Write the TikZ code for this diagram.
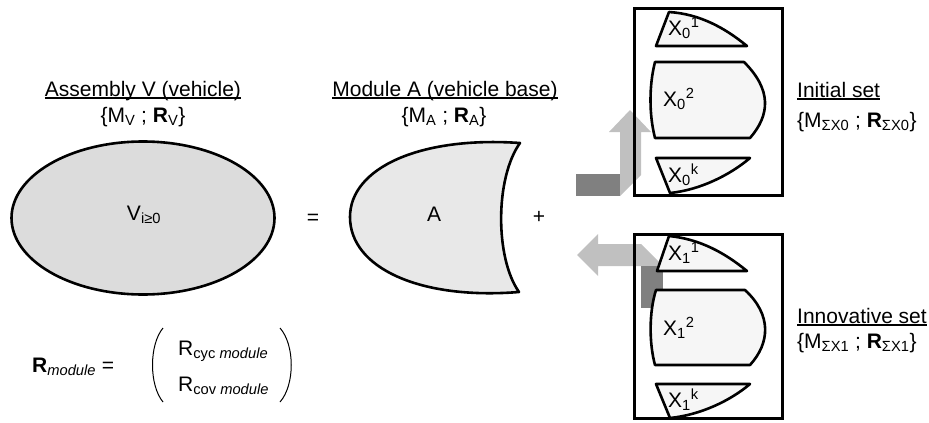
\documentclass[tikz,border=0pt]{standalone}
\usepackage{fontspec}
\setmainfont{Liberation Sans}
\usetikzlibrary{shapes.geometric}
\definecolor{ellfill}{HTML}{DCDCDC}
\definecolor{afill}{HTML}{E8E8E8}
\definecolor{xfill}{HTML}{F6F6F6}
\definecolor{arrlight}{HTML}{C0C0C0}
\definecolor{arrdark}{HTML}{808080}
\begin{document}
\begin{tikzpicture}[x=1pt,y=-1pt,
  font=\fontsize{21}{25}\selectfont,
  shp/.style={draw=black, line width=2.6pt, line join=round},
  xshp/.style={shp, fill=xfill},
  ttl/.style={inner sep=0, anchor=base},
  ttlw/.style={inner sep=0, anchor=base west},
  uline/.style={line width=1.3pt},
  boxnode/.style={draw=black, line width=2.6pt, minimum width=148pt, inner sep=0},
  paren/.style={line width=1pt}]
\useasboundingbox (0,0) rectangle (929,423);

% titles
\node[ttl] (tV) at (143,96) {Assembly V (vehicle)};
\draw[uline] ([yshift=-2pt]tV.base west) -- ([yshift=-2pt]tV.base east);
\node[ttl] (sV) at (143,122) {\{M\textsubscript{V} ; \textbf{R}\textsubscript{V}\}};

\node[ttl] (tA) at (445,96) {Module A (vehicle base)};
\draw[uline] ([yshift=-2pt]tA.base west) -- ([yshift=-2pt]tA.base east);
\node[ttl] (sA) at (444,122) {\{M\textsubscript{A} ; \textbf{R}\textsubscript{A}\}};

\node[ttlw] (tI) at (797,97) {Initial set};
\draw[uline] ([yshift=-2pt]tI.base west) -- ([yshift=-2pt]tI.base east);
\node[ttlw] (sI) at (797,127) {\{M\textsubscript{ΣX0} ; \textbf{R}\textsubscript{ΣX0}\}};

\node[ttlw] (tN) at (797,323) {Innovative set};
\draw[uline] ([yshift=-2pt]tN.base west) -- ([yshift=-2pt]tN.base east);
\node[ttlw] (sN) at (797,348) {\{M\textsubscript{ΣX1} ; \textbf{R}\textsubscript{ΣX1}\}};

% ellipse V
\node[shp, ellipse, fill=ellfill, minimum width=263pt, minimum height=153pt, inner sep=0] (V) at (143,218) {};
\node[ttl] (Vl) at (144,220) {V\textsubscript{i≥0}};

\node[ttl] (eq) at (313,224) {=};

% module A
\draw[shp, fill=afill] (520,143) .. controls (420,136) and (350,168) .. (350,217)
  .. controls (350,268) and (420,300) .. (519,292)
  .. controls (495,258) and (495,178) .. cycle;
\node[ttl] (Al) at (434,221) {A};
\node[ttl] (plus) at (539,223) {+};

% arrows
\fill[arrdark] (576,174) rectangle (620,196);
\fill[arrlight] (620,196) -- (620,132) -- (609,132) -- (630,110) -- (651,132) -- (641,132) -- (641,175) -- cycle;
\fill[arrlight] (577,255) -- (598,234) -- (598,244) -- (641,244) -- (663,266) -- (598,266) -- (598,276) -- cycle;
\fill[arrdark] (641,266) rectangle (663,308);

% boxes
\node[boxnode, minimum height=187pt] (B0) at (708.5,102) {};
\node[boxnode, minimum height=184pt] (B1) at (708.5,326.5) {};

% initial set shapes
\draw[xshp] (669,12) -- (656,46) -- (747,46) .. controls (725,28) and (700,14) .. cycle;
\draw[xshp] (655,62) -- (744,62) .. controls (772,90) and (770,115) .. (750,138) -- (655,138)
  .. controls (649,115) and (649,85) .. cycle;
\draw[xshp] (656,158) -- (750,158) .. controls (730,175) and (700,190) .. (670,193) -- cycle;
\node[ttlw] (x01) at (668,35) {X\textsubscript{0}\textsuperscript{1}};
\node[ttlw] (x02) at (663,106) {X\textsubscript{0}\textsuperscript{2}};
\node[ttlw] (x0k) at (668,182) {X\textsubscript{0}\textsuperscript{k}};

% innovative set shapes
\draw[xshp] (669,236) -- (657,271) -- (747,271) .. controls (725,253) and (700,239) .. cycle;
\draw[xshp] (656,290) -- (745,290) .. controls (772,315) and (770,343) .. (750,365) -- (655,365)
  .. controls (649,343) and (649,312) .. cycle;
\draw[xshp] (656,384) -- (750,384) .. controls (730,401) and (700,415) .. (670,418) -- cycle;
\node[ttlw] (x11) at (668,260) {X\textsubscript{1}\textsuperscript{1}};
\node[ttlw] (x12) at (663,335) {X\textsubscript{1}\textsuperscript{2}};
\node[ttlw] (x1k) at (668,407) {X\textsubscript{1}\textsuperscript{k}};

% R module
\node[ttlw] (Rm) at (32,372) {\textbf{R}\textsubscript{\itshape module} =};
\node[ttlw] (Rc) at (178,355) {R\textsubscript{cyc \itshape module}};
\node[ttlw] (Rv) at (178,391) {R\textsubscript{cov \itshape module}};
\draw[paren] (163,328) .. controls (149,345) and (149,385) .. (163,402);
\draw[paren] (280,328) .. controls (295,345) and (295,385) .. (280,402);
\end{tikzpicture}
\end{document}
